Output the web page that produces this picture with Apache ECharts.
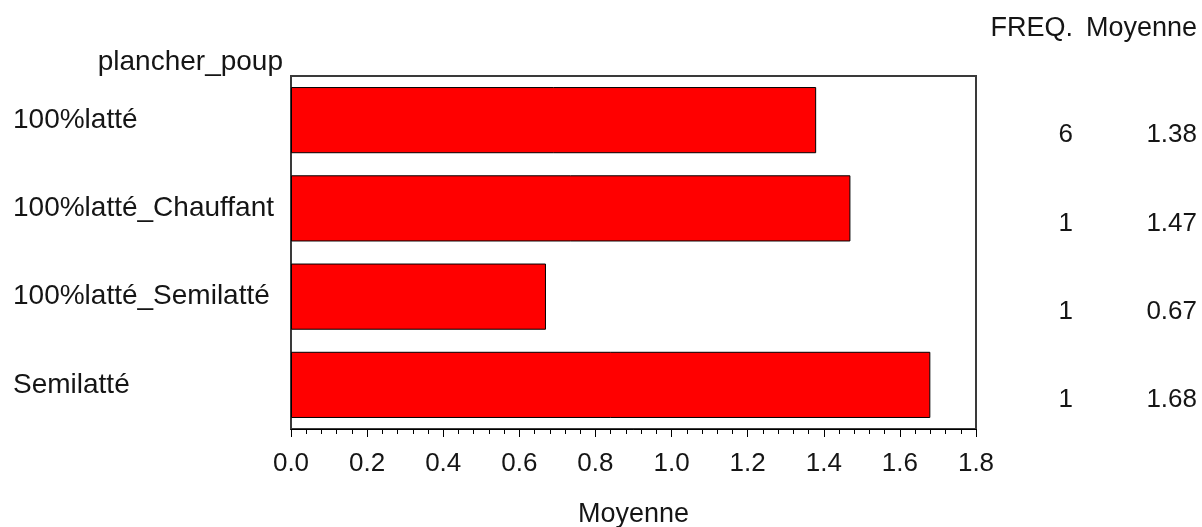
<!DOCTYPE html>
<html>
<head>
<meta charset="utf-8">
<style>
  html, body { margin: 0; padding: 0; background: #ffffff; }
  #chart { width: 1202px; height: 527px; }
</style>
<script src="https://cdn.jsdelivr.net/npm/echarts@6/dist/echarts.min.js"></script>
</head>
<body>
<div id="chart"></div>
<script>
// Mean value per floor type, with the number of observations
const categories = ['100%latté', '100%latté_Chauffant', '100%latté_Semilatté', 'Semilatté'];
const meanValues = [1.38, 1.47, 0.67, 1.68];
const freqValues = [6, 1, 1, 1];
const xTicks = { min: 0, max: 1.8, step: 0.2 };

const FONT = '"Liberation Sans", Arial, sans-serif';
const TEXT = '#151515';

// Plot frame in pixels
const gridLeft = 291, gridRight = 976, gridTop = 76, gridBottom = 429;
const W = 1202, H = 527;

const chart = echarts.init(document.getElementById('chart'), null, { renderer: 'canvas' });

// Category axes run top-to-bottom (inverse), so their "start" end is the top
function tableAxis(title, offset, formatter) {
  return {
    type: 'category',
    data: categories,
    inverse: true,
    position: 'right',
    offset: offset,
    name: title,
    nameLocation: 'start',
    nameGap: 47,
    nameTextStyle: {
      fontFamily: FONT, fontSize: 27, color: TEXT,
      align: 'right', verticalAlign: 'middle'
    },
    axisLine: { show: false },
    axisTick: { show: false },
    splitLine: { show: false },
    axisLabel: {
      margin: 0,
      align: 'right',
      verticalAlign: 'top',
      padding: [2, 0, 0, 0],
      fontFamily: FONT,
      fontSize: 26,
      color: TEXT,
      formatter: formatter
    }
  };
}

chart.setOption({
  animation: false,
  backgroundColor: '#ffffff',
  grid: {
    left: gridLeft,
    right: W - gridRight,
    top: gridTop,
    bottom: H - gridBottom,
    outerBoundsMode: 'none',
    containLabel: false,
    show: true,
    borderColor: '#3a3a3a',
    borderWidth: 2,
    backgroundColor: 'transparent'
  },
  xAxis: {
    type: 'value',
    min: xTicks.min,
    max: xTicks.max,
    interval: xTicks.step,
    name: 'Moyenne',
    nameLocation: 'middle',
    nameGap: 72,
    nameTextStyle: { fontFamily: FONT, fontSize: 27, color: TEXT },
    axisLine: { show: true, lineStyle: { color: '#000', width: 1 } },
    axisTick: { show: true, length: 8, lineStyle: { color: '#000', width: 1 } },
    minorTick: { show: true, splitNumber: 5, length: 5, lineStyle: { color: '#000', width: 1 } },
    splitLine: { show: false },
    axisLabel: {
      margin: 22,
      fontFamily: FONT,
      fontSize: 26,
      color: TEXT,
      formatter: v => v.toFixed(1)
    }
  },
  yAxis: [
    {
      type: 'category',
      data: categories,
      inverse: true,
      position: 'left',
      name: 'plancher_poup',
      nameLocation: 'start',
      nameGap: 14,
      nameTextStyle: {
        fontFamily: FONT, fontSize: 28, color: TEXT,
        align: 'right', verticalAlign: 'middle', padding: [0, 8, 0, 0]
      },
      axisLine: { show: false },
      axisTick: { show: false },
      splitLine: { show: false },
      axisLabel: {
        margin: gridLeft - 13,
        align: 'left',
        fontFamily: FONT,
        fontSize: 28,
        color: TEXT
      }
    },
    tableAxis('FREQ.', 1073 - gridRight, (v, i) => String(freqValues[i])),
    tableAxis('Moyenne', 1197 - gridRight, (v, i) => meanValues[i].toFixed(2))
  ],
  series: [
    {
      type: 'bar',
      yAxisIndex: 0,
      data: meanValues,
      barCategoryGap: '25%',
      itemStyle: { color: '#ff0000', borderColor: '#000000', borderWidth: 1 },
      emphasis: { disabled: true }
    }
  ]
});
</script>
</body>
</html>
